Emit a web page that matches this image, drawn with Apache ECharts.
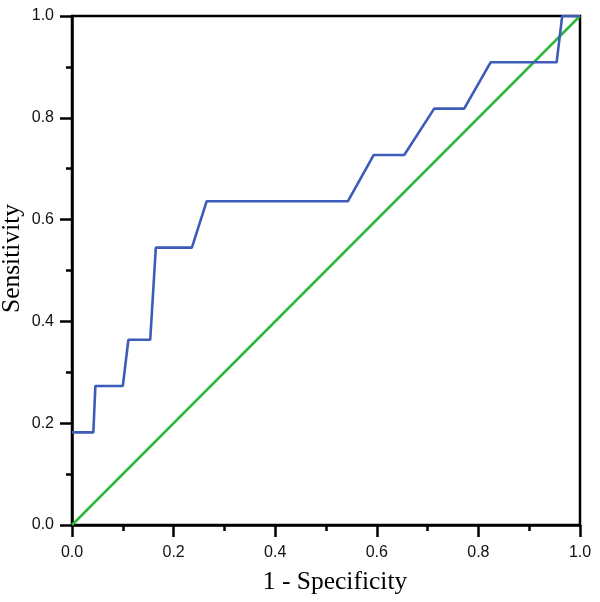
<!DOCTYPE html>
<html>
<head>
<meta charset="utf-8">
<script src="https://cdn.jsdelivr.net/npm/echarts@6/dist/echarts.min.js"></script>
<style>html,body{margin:0;padding:0;background:#fff;}#c{width:600px;height:602px;}</style>
</head>
<body>
<div id="c"></div>
<script>
var rocX = [0, 0.042, 0.046, 0.100, 0.111, 0.154, 0.165, 0.236, 0.265, 0.543, 0.594, 0.654, 0.713, 0.772, 0.824, 0.954, 0.965, 1.0];
var rocY = [0.182, 0.182, 0.273, 0.273, 0.364, 0.364, 0.545, 0.545, 0.636, 0.636, 0.727, 0.727, 0.818, 0.818, 0.909, 0.909, 1.0, 1.0];
var refX = [0, 1];
var refY = [0, 1];
var tickLabels = ['0.0', '0.2', '0.4', '0.6', '0.8', '1.0'];

function pairs(xs, ys) { return xs.map(function (x, i) { return [x, ys[i]]; }); }
function fmt(v) { var i = Math.round(v * 5); return tickLabels[i] !== undefined && Math.abs(v * 5 - i) < 1e-6 ? tickLabels[i] : ''; }

var chart = echarts.init(document.getElementById('c'), null, {renderer: 'canvas'});
var axisCommon = {
  type: 'value', min: 0, max: 1, interval: 0.2,
  axisLine: {show: true, lineStyle: {color: '#000', width: 2.5}},
  axisTick: {show: true, inside: false, length: 12, lineStyle: {color: '#000', width: 2.5}},
  minorTick: {show: true, splitNumber: 2, length: 6, lineStyle: {color: '#000', width: 2.5}},
  splitLine: {show: false},
  axisLabel: {formatter: fmt, color: '#111', fontFamily: 'Liberation Sans', fontSize: 16},
  nameTextStyle: {fontFamily: 'Liberation Serif', fontSize: 25.5, color: '#000'}
};
chart.setOption({
  animation: false,
  backgroundColor: '#fff',
  grid: {left: 72, right: 20, top: 16, bottom: 77, containLabel: false, outerBoundsMode: 'none', show: true, borderColor: '#000', borderWidth: 2.5, backgroundColor: 'transparent'},
  xAxis: Object.assign({}, axisCommon, {
    name: '1 - Specificity', nameLocation: 'middle', nameGap: 44, nameMoveOverlap: false,
    nameTextStyle: Object.assign({}, axisCommon.nameTextStyle, {padding: [0, 0, 0, 18]}),
    axisLabel: Object.assign({}, axisCommon.axisLabel, {margin: 20})
  }),
  yAxis: Object.assign({}, axisCommon, {
    name: 'Sensitivity', nameLocation: 'middle', nameGap: 47, nameMoveOverlap: false,
    nameTextStyle: Object.assign({}, axisCommon.nameTextStyle, {padding: [0, 0, 0, 24]}),
    axisLabel: Object.assign({}, axisCommon.axisLabel, {margin: 18})
  }),
  series: [
    {type: 'line', data: pairs(refX, refY), symbol: 'none', lineStyle: {color: '#2db83d', width: 2.5}, z: 2},
    {type: 'line', data: pairs(rocX, rocY), symbol: 'none', lineStyle: {color: '#3d5bb8', width: 2.6}, z: 3}
  ]
});
</script>
</body>
</html>
